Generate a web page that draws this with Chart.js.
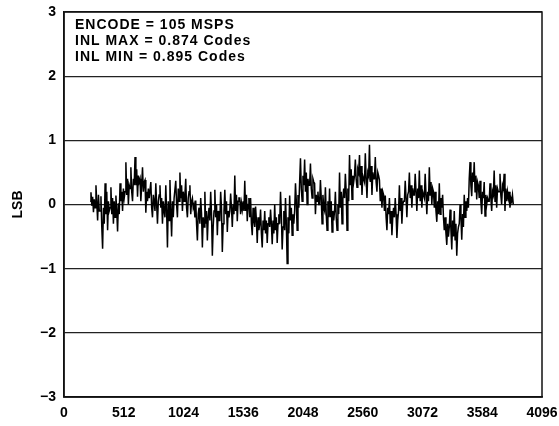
<!DOCTYPE html>
<html>
<head>
<meta charset="utf-8">
<script src="https://cdn.jsdelivr.net/npm/chart.js@4.4.1/dist/chart.umd.min.js"></script>
<style>
html,body{margin:0;padding:0;background:#fff;}
#c{display:block;}
</style>
</head>
<body>
<canvas id="c" width="559" height="426"></canvas>
<script>
// Axis ticks
const xTicks = [0, 512, 1024, 1536, 2048, 2560, 3072, 3584, 4096];
const yTicks = [-3, -2, -1, 0, 1, 2, 3];
const yTitle = "LSB";
const annotationLines = ["ENCODE = 105 MSPS", "INL MAX = 0.874 Codes", "INL MIN = 0.895 Codes"];
// Code range covered by the INL trace
const codeStart = 224;
const codeEnd = 3850;
// INL values (LSB), left to right
const inl = [
 .05,.19,-.02,.12,-.12,.08, -.05,.30,.02,-.25,.15,-.10, -.10,.13,-.35,-.69,-.05,-.30,
 .33,-.15,.20,-.40,.05,-.10, -.05,.27,-.15,.10,-.30,.05, -.20,.14,-.10,-.42,.02,-.15,
 .33,.05,.20,-.10,.25,.10, .20,.66,.15,.40,0.0,.30, .25,.58,.20,.05,.40,.30,
 .74,.30,.55,.12,.45,.35, .40,.05,.30,.58,.20,.35, .38,-.13,.20,.05,.25,.10,
 .10,.35,-.05,-.20,.15,.05, -.10,.33,.00,-.30,.05,.15, .30,-.05,.10,-.30,.05,-.10,
 -.20,.30,-.10,-.67,.05,-.25, .38,-.10,-.50,.05,-.20,.10, .10,.37,.00,-.20,.25,.05,
 .50,.10,.30,-.10,.20,.05, .15,.40,-.05,-.20,.10,.20, .30,-.15,.05,.10,-.05,.00,
 -.20,.06,-.30,-.56,-.15,-.05, -.30,.10,-.15,-.67,-.20,-.35, .20,-.30,-.10,-.56,-.20,-.05,
 -.25,.20,-.15,-.80,-.35,-.10, .23,-.20,.00,-.48,-.10,-.25, -.25,.20,-.05,-.74,-.30,-.10,
 .23,-.15,.05,-.43,-.10,-.20, -.10,.17,-.05,-.35,.00,-.15, .45,-.10,.15,-.26,.05,.10,
 .10,-.15,.02,-.08,.05,-.10, .37,-.10,.15,-.26,.00,.10, -.20,.10,-.30,-.48,-.05,-.25,
 -.35,-.03,-.25,-.60,-.20,-.40, -.30,-.08,-.45,-.67,-.25,-.40, -.10,-.45,-.25,-.60,-.30,-.20,
 -.35,-.08,-.30,-.62,-.25,-.45, 0.0,-.40,-.20,-.60,-.30,-.15, -.30,.20,-.15,-.70,-.35,-.10,
 -.40,.10,-.30,-.92,-.20,-.45, .14,-.25,-.05,-.48,-.15,-.30, -.10,.33,.05,-.40,.15,-.05,
 .35,.72,.25,.05,.45,.30, .70,.20,.50,.00,.40,.30, .30,.64,.25,.10,.40,.35,
 .33,-.15,.15,.05,.20,.00, .00,.38,.10,-.30,.15,-.05, -.10,.27,-.15,-.40,.05,-.20,
 .25,-.20,.05,-.43,-.10,-.25, -.10,.20,-.20,-.40,.00,-.15, .50,-.05,.20,-.30,.10,.25,
 .10,.48,.20,-.40,.25,.05, .77,.30,.55,.08,.45,.35, .45,.70,.40,.27,.55,.50,
 .77,.30,.60,.15,.45,.40, .35,.80,.40,.10,.50,.45, .93,.35,.60,.15,.50,.40,
 .40,.74,.35,.20,.50,.45, .38,.05,.25,-.05,.20,.15, -.10,.14,-.20,-.40,-.05,-.15,
 .10,-.30,-.10,-.48,-.20,-.05, -.20,.10,-.15,-.52,-.25,-.10, .30,-.10,.10,-.30,.00,.05,
 .05,.37,.10,-.20,.15,.20, .50,.10,.30,-.05,.25,.15, .15,.48,.20,-.10,.25,.10,
 .53,.05,.30,-.05,.20,.15, .10,.48,.15,-.15,.20,.05, .58,.15,.35,.00,.25,.20,
 -.05,.20,-.10,-.27,.05,-.15, .33,-.15,.10,-.05,.15,-.20, -.40,-.20,-.45,-.63,-.30,-.50,
 -.35,-.08,-.40,-.70,-.25,-.50, -.10,-.55,-.30,-.80,-.45,-.35, -.30,.00,-.20,-.55,-.15,-.35,
 .15,-.20,.05,-.10,.10,-.05, .40,.66,.30,.13,.50,.35, .66,.20,.45,.08,.35,.30,
 .10,.37,.05,-.15,.20,.10, .35,-.18,.15,.00,.10,.05, .05,.33,.10,-.10,.20,.15,
 .53,.05,.30,-.05,.25,.20, .20,.48,.15,.00,.30,.25, .48,-.10,.25,.05,.20,.10,
 .20,-.05,.10,.05,.15,.00
];

const step = (codeEnd - codeStart) / (inl.length - 1);
const points = inl.map((v, i) => ({ x: codeStart + i * step, y: v }));

const FONT = "'Liberation Sans', Arial, Helvetica, sans-serif";

const framePlugin = {
  id: 'frame',
  afterDraw(chart) {
    const { ctx, chartArea: a } = chart;
    ctx.save();
    ctx.strokeStyle = '#111';
    ctx.lineWidth = 1.5;
    ctx.strokeRect(a.left, a.top, a.right - a.left, a.bottom - a.top);
    ctx.fillStyle = '#000';
    ctx.font = "bold 14px " + FONT;
    try { ctx.letterSpacing = '1px'; } catch (e) {}
    ctx.textBaseline = 'middle';
    ctx.textAlign = 'left';
    annotationLines.forEach((t, i) => ctx.fillText(t, a.left + 11, a.top + 13 + i * 16));
    ctx.restore();
  }
};

new Chart(document.getElementById('c'), {
  type: 'line',
  data: {
    datasets: [{
      data: points,
      borderColor: '#000',
      borderWidth: 1.5,
      pointRadius: 0,
      tension: 0,
      fill: false
    }]
  },
  options: {
    responsive: false,
    animation: false,
    devicePixelRatio: 1,
    layout: { padding: { top: 12, right: 17, left: 0, bottom: 0 } },
    plugins: { legend: { display: false }, tooltip: { enabled: false } },
    scales: {
      x: {
        type: 'linear',
        min: 0, max: 4096,
        afterBuildTicks: s => { s.ticks = xTicks.map(v => ({ value: v })); },
        afterFit: s => { s.height = 29; s.paddingLeft = 0; s.paddingRight = 0; },
        grid: { display: false, drawTicks: false },
        border: { display: true, color: '#111', width: 1.5 },
        ticks: { color: '#000', font: { family: FONT, size: 14, weight: 'bold' }, padding: 8, maxRotation: 0, autoSkip: false,
          callback: v => String(v) }
      },
      y: {
        type: 'linear',
        min: -3, max: 3,
        afterBuildTicks: s => { s.ticks = yTicks.map(v => ({ value: v })); },
        afterFit: s => { s.width = 64; s.paddingTop = 0; s.paddingBottom = 0; },
        grid: { color: '#222', lineWidth: 1.3, drawTicks: false },
        border: { display: true, color: '#111', width: 1.5 },
        title: { display: true, text: yTitle, color: '#000', font: { family: FONT, size: 14, weight: 'bold' }, padding: { top: 10, bottom: 0 } },
        ticks: {
          color: '#000', font: { family: FONT, size: 14, weight: 'bold' }, padding: 8,
          callback: v => String(v).replace('-', '\u2212')
        }
      }
    }
  },
  plugins: [framePlugin]
});
</script>
</body>
</html>
